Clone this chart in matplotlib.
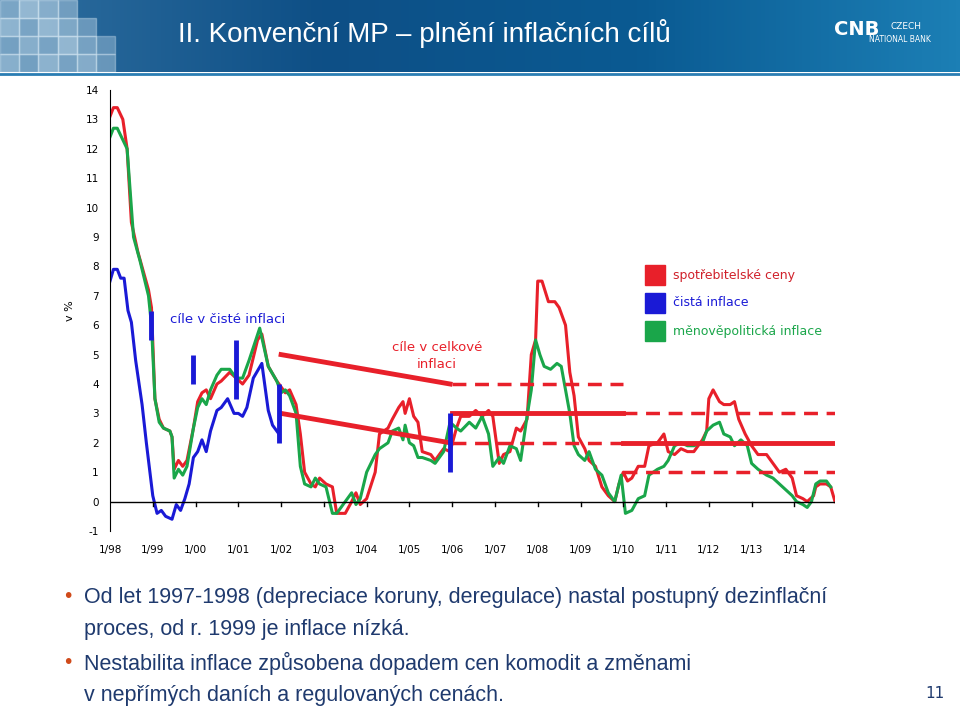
import numpy as np
import matplotlib
matplotlib.use("Agg")
import matplotlib.pyplot as plt
from matplotlib.patches import Rectangle
from matplotlib.colors import LinearSegmentedColormap

cpi_t = [1998.0,1998.08,1998.17,1998.3,1998.4,1998.5,1998.65,1998.9,1998.97,1999.05,1999.15,1999.25,1999.4,1999.45,1999.5,1999.6,1999.7,1999.8,1999.95,2000.05,2000.15,2000.25,2000.35,2000.5,2000.6,2000.8,2000.95,2001.1,2001.25,2001.45,2001.55,2001.7,2001.9,2002.0,2002.1,2002.2,2002.35,2002.45,2002.55,2002.7,2002.8,2002.9,2003.05,2003.2,2003.3,2003.5,2003.65,2003.75,2003.85,2004.0,2004.2,2004.3,2004.5,2004.6,2004.75,2004.85,2004.9,2005.0,2005.1,2005.2,2005.3,2005.5,2005.6,2005.8,2005.95,2006.1,2006.2,2006.4,2006.55,2006.7,2006.85,2006.95,2007.1,2007.2,2007.35,2007.5,2007.6,2007.75,2007.85,2007.95,2008.0,2008.1,2008.25,2008.4,2008.5,2008.65,2008.75,2008.85,2008.95,2009.1,2009.2,2009.35,2009.5,2009.65,2009.8,2009.9,2010.0,2010.1,2010.2,2010.35,2010.5,2010.6,2010.8,2010.95,2011.05,2011.2,2011.35,2011.5,2011.65,2011.85,2011.95,2012.0,2012.1,2012.25,2012.35,2012.5,2012.6,2012.7,2012.85,2013.0,2013.15,2013.35,2013.5,2013.65,2013.8,2013.95,2014.05,2014.2,2014.3,2014.45,2014.5,2014.6,2014.75,2014.85,2014.95]
cpi_v = [13.1,13.4,13.4,13.0,12.0,9.5,8.5,7.2,6.6,3.5,2.8,2.5,2.4,2.2,1.1,1.4,1.2,1.4,2.5,3.4,3.7,3.8,3.5,4.0,4.1,4.4,4.2,4.0,4.3,5.5,5.7,4.6,4.1,3.9,3.7,3.8,3.3,2.3,1.0,0.6,0.5,0.8,0.6,0.5,-0.4,-0.4,0.0,0.3,-0.1,0.1,1.0,2.3,2.5,2.8,3.2,3.4,3.0,3.5,2.9,2.7,1.7,1.6,1.4,1.8,1.7,2.5,2.9,2.9,3.1,2.9,3.1,2.9,1.3,1.6,1.7,2.5,2.4,2.8,5.0,5.5,7.5,7.5,6.8,6.8,6.6,6.0,4.4,3.6,2.2,1.8,1.4,1.2,0.5,0.2,0.0,0.6,1.0,0.7,0.8,1.2,1.2,1.9,2.0,2.3,1.7,1.6,1.8,1.7,1.7,2.1,2.4,3.5,3.8,3.4,3.3,3.3,3.4,2.8,2.3,1.9,1.6,1.6,1.3,1.0,1.1,0.8,0.2,0.1,0.0,0.2,0.5,0.6,0.6,0.5,0.0]

mpi_t = [1998.0,1998.08,1998.17,1998.3,1998.4,1998.55,1998.7,1998.9,1998.97,1999.05,1999.15,1999.25,1999.4,1999.45,1999.5,1999.6,1999.7,1999.8,1999.95,2000.05,2000.15,2000.25,2000.35,2000.5,2000.6,2000.8,2000.95,2001.1,2001.25,2001.5,2001.7,2001.9,2002.0,2002.1,2002.2,2002.35,2002.45,2002.55,2002.7,2002.8,2002.9,2003.05,2003.2,2003.3,2003.5,2003.65,2003.75,2003.85,2004.0,2004.2,2004.3,2004.5,2004.6,2004.75,2004.85,2004.9,2005.0,2005.1,2005.2,2005.3,2005.5,2005.6,2005.8,2005.95,2006.1,2006.2,2006.4,2006.55,2006.7,2006.85,2006.95,2007.1,2007.2,2007.35,2007.5,2007.6,2007.75,2007.85,2007.95,2008.05,2008.15,2008.3,2008.45,2008.55,2008.75,2008.85,2008.95,2009.1,2009.2,2009.35,2009.5,2009.65,2009.8,2009.95,2010.05,2010.2,2010.35,2010.5,2010.6,2010.8,2010.95,2011.05,2011.2,2011.35,2011.5,2011.65,2011.85,2011.95,2012.1,2012.25,2012.35,2012.5,2012.6,2012.75,2012.9,2013.0,2013.15,2013.35,2013.5,2013.65,2013.8,2013.95,2014.05,2014.2,2014.3,2014.4,2014.5,2014.6,2014.75,2014.85]
mpi_v = [12.4,12.7,12.7,12.3,12.0,9.0,8.2,7.0,6.0,3.5,2.7,2.5,2.4,2.2,0.8,1.1,0.9,1.2,2.5,3.2,3.5,3.3,3.8,4.3,4.5,4.5,4.2,4.2,4.8,5.9,4.6,4.1,3.7,3.8,3.6,3.0,1.2,0.6,0.5,0.8,0.6,0.5,-0.4,-0.4,0.0,0.3,-0.1,0.1,1.0,1.6,1.8,2.0,2.4,2.5,2.1,2.6,2.0,1.9,1.5,1.5,1.4,1.3,1.7,2.7,2.5,2.4,2.7,2.5,2.9,2.3,1.2,1.5,1.3,1.9,1.8,1.4,2.9,3.8,5.5,5.0,4.6,4.5,4.7,4.6,3.0,1.9,1.6,1.4,1.7,1.1,0.9,0.3,0.0,0.9,-0.4,-0.3,0.1,0.2,0.9,1.1,1.2,1.4,1.9,2.0,1.9,1.9,2.0,2.4,2.6,2.7,2.3,2.2,1.9,2.1,1.9,1.3,1.1,0.9,0.8,0.6,0.4,0.2,0.0,-0.1,-0.2,0.0,0.6,0.7,0.7,0.5]

net_t = [1998.0,1998.08,1998.17,1998.25,1998.33,1998.42,1998.5,1998.6,1998.75,1998.85,1999.0,1999.1,1999.2,1999.3,1999.45,1999.55,1999.65,1999.75,1999.85,1999.95,2000.05,2000.15,2000.25,2000.35,2000.5,2000.6,2000.75,2000.9,2001.0,2001.1,2001.2,2001.35,2001.55,2001.7,2001.8,2001.95]
net_v = [7.5,7.9,7.9,7.6,7.6,6.5,6.1,4.8,3.3,2.0,0.2,-0.4,-0.3,-0.5,-0.6,-0.1,-0.3,0.1,0.6,1.5,1.7,2.1,1.7,2.4,3.1,3.2,3.5,3.0,3.0,2.9,3.2,4.2,4.7,3.1,2.6,2.3]

gen_t = [2002.0, 2005.95]
gen_hi = [5, 4]
gen_lo = [3, 2]
bars_t = [1998.95, 1999.95, 2000.95, 2001.95, 2005.95]
bars_lo = [5.5, 4.0, 3.5, 2.0, 1.0]
bars_hi = [6.5, 5.0, 5.5, 4.0, 3.0]

years = list(range(1998, 2015))
ticklabels = ["1/%02d" % (y % 100) for y in years]
yticks = list(range(-1, 15))

RED = "#e8202a"; GREEN = "#1aa64a"; BLUE = "#1a1ad6"

plt.rcParams["axes.unicode_minus"] = False
fig = plt.figure(figsize=(9.6, 7.12), dpi=100)

# header
hax = fig.add_axes([0, 1 - 72/712, 1, 72/712])
grad = np.linspace(0, 1, 256)[None, :]
cm = LinearSegmentedColormap.from_list("h", ["#2f6fa0", "#0e4f86", "#0a5a92", "#1c7fb5"])
hax.imshow(grad, aspect="auto", cmap=cm, extent=[0, 1, 0, 1])
rng = [[0.6,0.8,0.7,0.55,0.0,0.0],[0.75,0.6,0.8,0.65,0.5,0.0],[0.55,0.7,0.6,0.8,0.6,0.45],[0.7,0.55,0.75,0.6,0.7,0.5]]
for i, row in enumerate(rng):
    for j, a in enumerate(row):
        if a > 0:
            hax.add_patch(Rectangle((j*0.02, 0.75 - i*0.25), 0.02, 0.25, color="#cfe3f0", alpha=a*0.8))
hax.set_xlim(0, 1); hax.set_ylim(0, 1); hax.axis("off")
fig.text(0.185, 0.953, "II. Konvenční MP – plnění inflačních cílů", color="white", fontsize=20, family="Liberation Sans", va="center")
fig.text(0.892, 0.958, "CNB", color="white", fontsize=14, fontweight="bold", va="center", ha="center")
fig.text(0.928, 0.963, "CZECH", color="white", fontsize=6.5, va="center", ha="left")
fig.text(0.905, 0.944, "NATIONAL BANK", color="white", fontsize=5.5, va="center", ha="left")
fig.add_artist(plt.Line2D([0, 1], [1 - 74/712]*2, color="#2a7db3", lw=2))

ax = fig.add_axes([110/960, 1 - 531/712, 725/960, 441/712])
ax.plot(cpi_t, cpi_v, color=RED, lw=2.2)
ax.plot(mpi_t, mpi_v, color=GREEN, lw=2.2)
ax.plot(net_t, net_v, color=BLUE, lw=2.2)
ax.plot(gen_t, gen_hi, color=RED, lw=3.5)
ax.plot(gen_t, gen_lo, color=RED, lw=3.5)
ax.plot([2006, 2010], [4, 4], color=RED, lw=2.5, ls=(0, (4, 2.5)))
ax.plot([2006, 2010], [2, 2], color=RED, lw=2.5, ls=(0, (4, 2.5)))
ax.plot([2006, 2010], [3, 3], color=RED, lw=3.5)
ax.plot([2010, 2014.95], [3, 3], color=RED, lw=2.5, ls=(0, (4, 2.5)))
ax.plot([2010, 2014.95], [1, 1], color=RED, lw=2.5, ls=(0, (4, 2.5)))
ax.plot([2010, 2014.95], [2, 2], color=RED, lw=3.5)
ax.vlines(bars_t, bars_lo, bars_hi, color=BLUE, lw=3.5)
ax.axhline(0, color="black", lw=1)
ax.set_xlim(1998, 2014.95)
ax.set_ylim(-1, 14)
ax.set_yticks(yticks)
ax.set_xticks(years)
ax.set_xticklabels(ticklabels, fontsize=7.5)
ax.tick_params(axis="y", labelsize=7.5, length=0, pad=8)
ax.tick_params(axis="x", length=0, pad=10)
for y in years[1:]:
    ax.plot([y, y], [0, -0.15], color="black", lw=1)
for s in ["top", "right", "bottom"]:
    ax.spines[s].set_visible(False)
ax.set_ylabel("v %", fontsize=8, labelpad=8)
ax.text(1999.4, 6.2, "cíle v čisté inflaci", color=BLUE, fontsize=9.5, va="center")
ax.text(2005.65, 4.95, "cíle v celkové\ninflaci", color=RED, fontsize=9.5, ha="center", va="center", linespacing=1.4)
leg = [("spotřebitelské ceny", RED), ("čistá inflace", BLUE), ("měnověpolitická inflace", GREEN)]
for i, (lab, c) in enumerate(leg):
    yy = 1 - (275 + 28*i)/712
    fig.add_artist(Rectangle((645/960, yy - 10/712), 20/960, 20/712, color=c))
    fig.text(673/960, yy, lab, color=c if c != RED else "#d0202a", fontsize=9, va="center")

bul = [(597, "Od let 1997-1998 (depreciace koruny, deregulace) nastal postupný dezinflační"),
       (629, "proces, od r. 1999 je inflace nízká."),
       (663, "Nestabilita inflace způsobena dopadem cen komodit a změnami"),
       (695, "v nepřímých daních a regulovaných cenách.")]
for py, t in bul:
    fig.text(84/960, 1 - py/712, t, color="#1f3a6e", fontsize=15.5, va="center", family="Liberation Sans")
for py in [597, 663]:
    fig.text(62/960, 1 - py/712, "•", color="#d04a1a", fontsize=14, va="center")
fig.text(935/960, 1 - 693/712, "11", color="#1f3a6e", fontsize=11, ha="center", va="center")
fig.savefig("out.png", dpi=100)
